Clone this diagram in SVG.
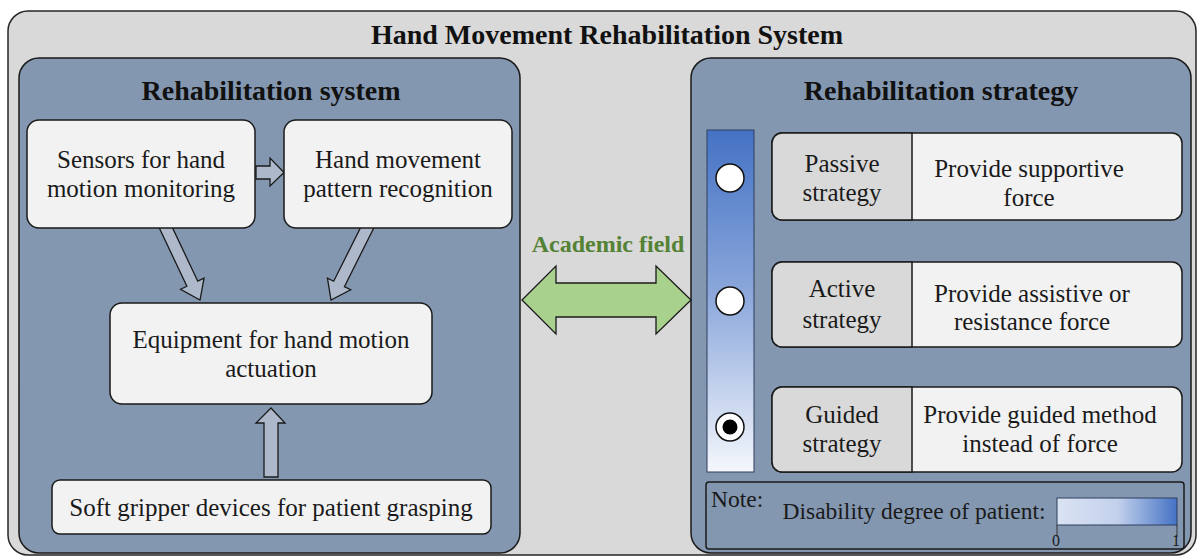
<svg xmlns="http://www.w3.org/2000/svg" width="1198" height="557" viewBox="0 0 1198 557">
  <style>
    .frame { fill: #D9D9D9; stroke: #262626; stroke-width: 1.5; }
    .panel { fill: #8497B0; stroke: #1a1a1a; stroke-width: 1.5; }
    .box { fill: #F2F2F2; stroke: #1a1a1a; stroke-width: 1.5; }
    .tag { fill: #D9D9D9; stroke: #1a1a1a; stroke-width: 1.5; }
    .flow { fill: #ADB9CA; stroke: #1a1a1a; stroke-width: 1.3; stroke-linejoin: miter; }
  </style>
  <defs>
    <linearGradient id="scaleV" x1="0" y1="0" x2="0" y2="1">
      <stop offset="0" stop-color="#4472C4"/>
      <stop offset="0.5" stop-color="#8FAADC"/>
      <stop offset="1" stop-color="#F4F7FC"/>
    </linearGradient>
    <linearGradient id="scaleH" x1="0" y1="0" x2="1" y2="0">
      <stop offset="0" stop-color="#DAE3F3"/>
      <stop offset="0.5" stop-color="#C3D1EC"/>
      <stop offset="1" stop-color="#4472C4"/>
    </linearGradient>
  </defs>

  <!-- outer frame -->
  <g id="frame">
    <rect class="frame" x="8" y="11" width="1188" height="544" rx="20"/>
    <text font-family="Liberation Serif" font-size="28" font-weight="bold" fill="#111" text-anchor="middle" x="607" y="44">Hand Movement Rehabilitation System</text>
  </g>

  <!-- left panel -->
  <g id="rehab-system">
    <rect class="panel" x="19" y="58" width="501" height="495" rx="20"/>
    <text font-family="Liberation Serif" font-size="28" font-weight="bold" fill="#111" text-anchor="middle" x="271" y="100">Rehabilitation system</text>
  </g>

  <!-- right panel -->
  <g id="rehab-strategy">
    <rect class="panel" x="691" y="58" width="500" height="495" rx="20"/>
    <text font-family="Liberation Serif" font-size="28" font-weight="bold" fill="#111" text-anchor="middle" x="941" y="100">Rehabilitation strategy</text>
  </g>

  <!-- connectors -->
  <g id="connectors">
    <polygon class="flow" transform="translate(200,300) rotate(-25.3)" points="-6,-88 6,-88 6,-18 13,-18 0,0 -13,-18 -6,-18"/>
    <polygon class="flow" transform="translate(331,300) rotate(26.6)" points="-6,-88 6,-88 6,-18 13,-18 0,0 -13,-18 -6,-18"/>
    <polygon class="flow" points="256,166 270,166 270,158 284,172.5 270,186 270,179 256,179"/>
    <polygon class="flow" points="264,477 264,423 256,423 271,408 285,423 278,423 278,477"/>
    <polygon fill="#A9D18E" stroke="#1a1a1a" stroke-width="1.3" points="522,300 556,266 556,283 656,283 656,266 691,300 656,334 656,317 556,317 556,334"/>
    <text font-family="Liberation Serif" font-size="24" font-weight="bold" fill="#548235" text-anchor="middle" x="608" y="252">Academic field</text>
  </g>

  <g id="sensors">
    <rect class="box" x="27" y="120" width="228" height="108" rx="12"/>
    <text font-family="Liberation Serif" font-size="25" fill="#1a1a1a" text-anchor="middle" x="141" y="168">Sensors for hand</text>
    <text font-family="Liberation Serif" font-size="25" fill="#1a1a1a" text-anchor="middle" x="141" y="197">motion monitoring</text>
  </g>

  <g id="recognition">
    <rect class="box" x="284" y="120" width="228" height="108" rx="12"/>
    <text font-family="Liberation Serif" font-size="25" fill="#1a1a1a" text-anchor="middle" x="398" y="168">Hand movement</text>
    <text font-family="Liberation Serif" font-size="25" fill="#1a1a1a" text-anchor="middle" x="398" y="197">pattern recognition</text>
  </g>

  <g id="actuation">
    <rect class="box" x="110" y="303" width="322" height="101" rx="12"/>
    <text font-family="Liberation Serif" font-size="25" fill="#1a1a1a" text-anchor="middle" x="271" y="348">Equipment for hand motion</text>
    <text font-family="Liberation Serif" font-size="25" fill="#1a1a1a" text-anchor="middle" x="271" y="377">actuation</text>
  </g>

  <g id="gripper">
    <rect class="box" x="52" y="480" width="439" height="54" rx="8"/>
    <text font-family="Liberation Serif" font-size="25" fill="#1a1a1a" text-anchor="middle" x="271" y="516">Soft gripper devices for patient grasping</text>
  </g>

  <!-- disability scale with markers -->
  <g id="degree-bar">
    <rect x="707" y="130" width="47" height="342" fill="url(#scaleV)" stroke="#2f3f5f" stroke-width="1"/>
    <circle cx="730" cy="178" r="14" fill="#fff" stroke="#111" stroke-width="1.5"/>
    <circle cx="730" cy="301" r="14" fill="#fff" stroke="#111" stroke-width="1.5"/>
    <circle cx="730" cy="427" r="14" fill="#fff" stroke="#111" stroke-width="1.5"/>
    <circle cx="730" cy="427" r="7.5" fill="#000"/>
  </g>

  <g id="passive">
    <rect class="box" x="772" y="133" width="410" height="87" rx="10"/>
    <path class="tag" d="M912,133 H782 A10,10 0 0 0 772,143 V210 A10,10 0 0 0 782,220 H912 Z"/>
    <text font-family="Liberation Serif" font-size="25" fill="#1a1a1a" text-anchor="middle" x="842" y="172">Passive</text>
    <text font-family="Liberation Serif" font-size="25" fill="#1a1a1a" text-anchor="middle" x="842" y="201">strategy</text>
    <text font-family="Liberation Serif" font-size="25" fill="#1a1a1a" text-anchor="middle" x="1029" y="177">Provide supportive</text>
    <text font-family="Liberation Serif" font-size="25" fill="#1a1a1a" text-anchor="middle" x="1029" y="206">force</text>
  </g>

  <g id="active">
    <rect class="box" x="772" y="262" width="410" height="85" rx="10"/>
    <path class="tag" d="M912,262 H782 A10,10 0 0 0 772,272 V337 A10,10 0 0 0 782,347 H912 Z"/>
    <text font-family="Liberation Serif" font-size="25" fill="#1a1a1a" text-anchor="middle" x="842" y="297">Active</text>
    <text font-family="Liberation Serif" font-size="25" fill="#1a1a1a" text-anchor="middle" x="842" y="328">strategy</text>
    <text font-family="Liberation Serif" font-size="25" fill="#1a1a1a" text-anchor="middle" x="1032" y="302">Provide assistive or</text>
    <text font-family="Liberation Serif" font-size="25" fill="#1a1a1a" text-anchor="middle" x="1032" y="330">resistance force</text>
  </g>

  <g id="guided">
    <rect class="box" x="772" y="387" width="410" height="85" rx="10"/>
    <path class="tag" d="M912,387 H782 A10,10 0 0 0 772,397 V462 A10,10 0 0 0 782,472 H912 Z"/>
    <text font-family="Liberation Serif" font-size="25" fill="#1a1a1a" text-anchor="middle" x="842" y="423">Guided</text>
    <text font-family="Liberation Serif" font-size="25" fill="#1a1a1a" text-anchor="middle" x="842" y="452">strategy</text>
    <text font-family="Liberation Serif" font-size="25" fill="#1a1a1a" text-anchor="middle" x="1040" y="423">Provide guided method</text>
    <text font-family="Liberation Serif" font-size="25" fill="#1a1a1a" text-anchor="middle" x="1040" y="452">instead of force</text>
  </g>

  <!-- legend -->
  <g id="note">
    <rect x="706" y="482" width="478" height="67" rx="3" fill="none" stroke="#1a1a1a" stroke-width="1.5"/>
    <text font-family="Liberation Serif" font-size="23.5" fill="#1a1a1a" x="711" y="507">Note:</text>
    <text font-family="Liberation Serif" font-size="23.5" fill="#1a1a1a" text-anchor="middle" x="914" y="519">Disability degree of patient:</text>
    <rect x="1057" y="498" width="120" height="27" fill="url(#scaleH)" stroke="#2f3f5f" stroke-width="1"/>
    <line x1="1057" y1="525" x2="1057" y2="537" stroke="#333" stroke-width="1"/>
    <line x1="1177" y1="525" x2="1177" y2="537" stroke="#333" stroke-width="1"/>
    <text font-family="Liberation Serif" font-size="16" fill="#1a1a1a" text-anchor="middle" x="1056" y="546">0</text>
    <text font-family="Liberation Serif" font-size="16" fill="#1a1a1a" text-anchor="middle" x="1176" y="546">1</text>
  </g>
</svg>
